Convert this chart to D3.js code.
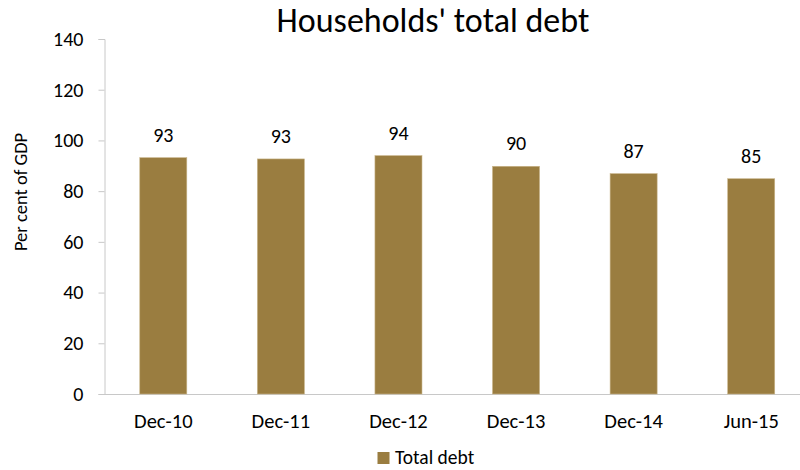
<html>
<head>
<script src="https://d3js.org/d3.v7.min.js"></script>
<style>
body { margin: 0; background: #fff; }
svg text { font-family: Carlito, Lato, "Open Sans", sans-serif; fill: #000; }
.axis path, .axis line { stroke: #c8c8c8; }
</style>
</head>
<body>
<script>
// chart data
var categories = ["Dec-10", "Dec-11", "Dec-12", "Dec-13", "Dec-14", "Jun-15"];
var totalDebt = [93.2, 92.7, 94.0, 89.8, 86.9, 84.9];
var yTicks = [0, 20, 40, 60, 80, 100, 120, 140];
var seriesName = "Total debt";
var title = "Households' total debt";

var W = 800, H = 470;
var margin = {top: 39, right: -10, bottom: 76, left: 104.5};

var svg = d3.select("body").append("svg")
    .attr("width", W)
    .attr("height", H);

var x = d3.scaleBand()
    .domain(categories)
    .range([margin.left, W - margin.right])
    .paddingInner(0.6)
    .paddingOuter(0.3);

var y = d3.scaleLinear()
    .domain([0, 140])
    .range([H - margin.bottom, margin.top]);

// title
svg.append("text")
    .attr("x", 433)
    .attr("y", 32)
    .attr("text-anchor", "middle")
    .style("font-size", "34px")
    .text(title);

// y axis
var yAxis = svg.append("g")
    .attr("class", "axis")
    .attr("transform", "translate(" + margin.left + ",0)")
    .call(d3.axisLeft(y).tickValues(yTicks).tickSize(6).tickPadding(15));
yAxis.selectAll("text").style("font-size", "20px");

// x axis
var xAxis = svg.append("g")
    .attr("class", "axis")
    .attr("transform", "translate(0," + y(0) + ")")
    .call(d3.axisBottom(x).tickSize(0).tickPadding(19));
xAxis.selectAll("text").style("font-size", "20.5px");
xAxis.select(".domain").attr("d", "M" + margin.left + ",0.5H" + W);

// y label
svg.append("text")
    .attr("transform", "translate(27,192) rotate(-90)")
    .attr("text-anchor", "middle")
    .style("font-size", "18.5px")
    .text("Per cent of GDP");

// bars
svg.selectAll("rect.bar")
    .data(totalDebt)
  .enter().append("rect")
    .attr("class", "bar")
    .attr("x", function(d, i) { return x(categories[i]); })
    .attr("y", function(d) { return y(d); })
    .attr("width", x.bandwidth())
    .attr("height", function(d) { return y(0) - y(d); })
    .attr("fill", "#9a7d40")
    .attr("stroke", "#c9b58a")
    .attr("stroke-width", 0.6);

// value labels
svg.selectAll("text.val")
    .data(totalDebt)
  .enter().append("text")
    .attr("class", "val")
    .attr("x", function(d, i) { return x(categories[i]) + x.bandwidth() / 2; })
    .attr("y", function(d) { return y(d) - 16; })
    .attr("text-anchor", "middle")
    .style("font-size", "20px")
    .text(function(d) { return d3.format(".0f")(d); });

// legend
svg.append("rect")
    .attr("x", 377.5)
    .attr("y", 452)
    .attr("width", 12)
    .attr("height", 12)
    .attr("fill", "#9a7d40");
svg.append("text")
    .attr("x", 395)
    .attr("y", 464)
    .style("font-size", "19.5px")
    .text(seriesName);
</script>
</body>
</html>
